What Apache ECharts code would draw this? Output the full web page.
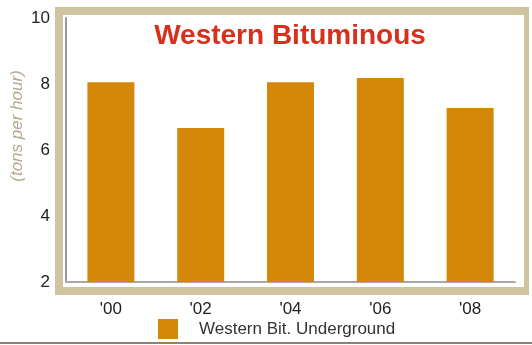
<!DOCTYPE html>
<html>
<head>
<meta charset="utf-8">
<script src="https://cdn.jsdelivr.net/npm/echarts@6/dist/echarts.min.js"></script>
<style>
  html, body { margin: 0; padding: 0; background: #fff; }
  #chart { width: 532px; height: 345px; }
</style>
</head>
<body>
<div id="chart"></div>
<script>
const years = ["'00", "'02", "'04", "'06", "'08"];
const underground = [8.05, 6.67, 8.05, 8.18, 7.27];
const yTicks = [2, 4, 6, 8, 10];

const font = "Liberation Sans, Arial, sans-serif";
const chart = echarts.init(document.getElementById("chart"));

const option = {
  animation: false,
  backgroundColor: "#fff",
  title: {
    text: "Western Bituminous",
    left: 285,
    textAlign: "center",
    top: 17,
    textStyle: {
      color: "#d8301a",
      fontFamily: font,
      fontWeight: "bold",
      fontSize: 28,
    },
  },
  // beige frame around the plot, y axis title, bottom rule
  graphic: [
    {
      type: "rect",
      z: -10,
      shape: { x: 55, y: 7, width: 474, height: 288 },
      style: { fill: "#cfc49f" },
    },
    {
      type: "rect",
      z: -9,
      shape: { x: 63, y: 15, width: 461, height: 272 },
      style: { fill: "#fff" },
    },
    {
      type: "rect",
      z: -9,
      shape: { x: 0, y: 342, width: 532, height: 2 },
      style: { fill: "#8c8370" },
    },
    {
      type: "text",
      x: 17,
      y: 126,
      rotation: Math.PI / 2,
      style: {
        text: "(tons per hour)",
        fill: "#b3a98c",
        font: "italic 17px " + font,
        align: "center",
        verticalAlign: "middle",
      },
    },
  ],
  legend: {
    data: ["Western Bit. Underground"],
    left: 153,
    top: 314,
    itemWidth: 20,
    itemHeight: 20,
    itemGap: 10,
    icon: "rect",
    textStyle: {
      color: "#333",
      fontSize: 17,
      fontFamily: font,
      padding: [0, 0, 0, 16],
    },
  },
  grid: {
    left: 66,
    right: 17,
    top: 18,
    bottom: 63,
  },
  xAxis: {
    type: "category",
    data: years,
    axisLine: { lineStyle: { color: "#a8a8a8", width: 2 } },
    axisTick: { show: false },
    axisLabel: {
      color: "#222",
      fontSize: 17,
      margin: 19,
      fontFamily: font,
    },
  },
  yAxis: {
    type: "value",
    min: yTicks[0],
    max: yTicks[yTicks.length - 1],
    interval: 2,
    axisLine: { show: true, lineStyle: { color: "#9a9a9a", width: 2 } },
    axisTick: { show: false },
    splitLine: { show: false },
    axisLabel: {
      color: "#222",
      fontSize: 17,
      margin: 16,
      fontFamily: font,
    },
  },
  series: [
    {
      name: "Western Bit. Underground",
      type: "bar",
      data: underground,
      barWidth: 47,
      itemStyle: { color: "#d5870a" },
    },
  ],
};

chart.setOption(option);
</script>
</body>
</html>
